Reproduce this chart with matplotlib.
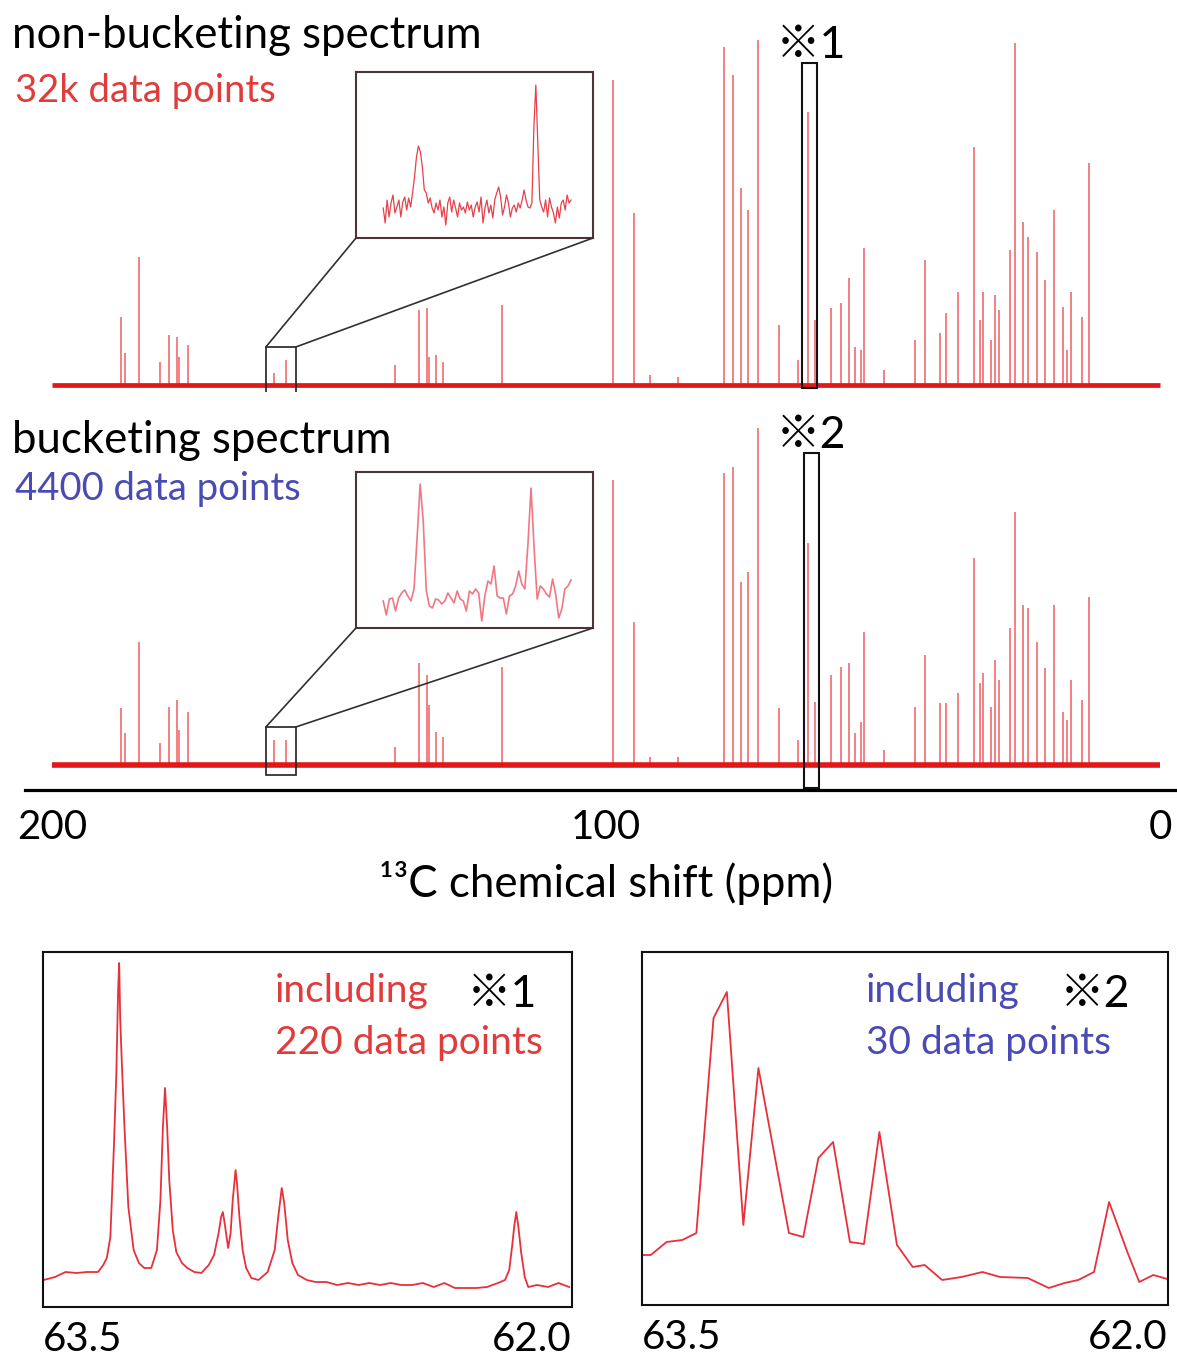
import numpy as np
import matplotlib
matplotlib.use('Agg')
import matplotlib.pyplot as plt
from matplotlib.patches import Rectangle, ConnectionPatch

W, H = 1177, 1371
plt.rcParams['font.family'] = ['Lato', 'Noto Sans CJK JP', 'DejaVu Sans']

# ---------------- data ----------------
peak_ppm = [187.6, 186.8, 184.3, 180.5, 178.8, 177.4, 177.1, 175.5, 159.9, 157.8,
            138.1, 133.8, 132.3, 132.0, 130.7, 129.4, 118.7, 98.8, 95.0, 92.1,
            87.0, 78.7, 77.1, 75.6, 74.3, 72.5, 68.8, 65.4, 63.6, 62.3,
            59.3, 57.6, 56.2, 55.1, 54.0, 53.4, 49.9, 44.3, 42.4, 39.8,
            38.6, 36.4, 33.5, 32.5, 32.0, 30.5, 29.8, 29.1, 27.0, 26.1,
            24.8, 23.8, 22.2, 20.8, 19.1, 17.5, 16.7, 16.0, 14.0, 12.8]
height_full = [68, 32, 128, 23, 50, 48, 28, 40, 12, 25,
               20, 75, 77, 28, 30, 23, 80, 305, 172, 10,
               8, 338, 310, 197, 175, 345, 60, 25, 273, 65,
               77, 82, 107, 38, 35, 137, 15, 45, 125, 52,
               72, 93, 238, 65, 93, 45, 90, 75, 135, 342,
               163, 148, 133, 105, 175, 78, 35, 93, 68, 222]
height_bucket = [57, 32, 123, 22, 58, 65, 35, 53, 25, 25,
                 18, 102, 90, 60, 33, 28, 98, 285, 143, 8,
                 8, 292, 298, 183, 193, 337, 57, 25, 222, 63,
                 90, 98, 102, 32, 43, 133, 15, 58, 110, 62,
                 62, 72, 207, 82, 92, 58, 105, 85, 137, 253,
                 160, 157, 123, 97, 160, 53, 45, 85, 65, 168]

axis_ticks = [200, 100, 0]
axis_ticklabels = ['200', '100', '0']

# zoomed region (small box) in ppm
zoom_ppm = (161.4, 156.0)
inset_trace_ppm = (160.78, 156.5)
inset_full = [30, 15, 38, 21, 35, 43, 25, 31, 38, 21, 36, 41, 28, 40, 31, 45, 61, 81, 92, 86,
              71, 48, 45, 35, 40, 30, 25, 35, 28, 38, 21, 31, 13, 35, 41, 26, 38, 30, 21, 35,
              28, 31, 25, 36, 28, 33, 21, 31, 36, 26, 41, 15, 30, 38, 25, 33, 20, 38, 45, 51,
              41, 23, 31, 43, 35, 21, 30, 33, 26, 35, 30, 38, 48, 38, 31, 30, 35, 111, 153, 95,
              38, 31, 26, 38, 21, 40, 31, 25, 15, 31, 20, 35, 38, 28, 43, 35, 38]
inset_bucket = [27, 13, 29, 30, 17, 30, 35, 38, 32, 27, 39, 90, 144, 107, 37, 22, 20, 29, 28, 24,
                27, 35, 30, 25, 37, 29, 27, 17, 37, 34, 39, 35, 7, 32, 47, 44, 62, 32, 30, 30,
                14, 32, 34, 42, 57, 44, 39, 84, 140, 80, 29, 42, 39, 34, 31, 49, 34, 10, 19, 39,
                42, 48]

# ※ regions (ppm)
region1_ppm = (64.7, 62.0)
region2_ppm = (64.35, 61.5)

# expanded region 63.5 - 62.0 ppm
detail_range = (63.5, 62.0)
detail_full_ppm = [63.498, 63.466, 63.436, 63.405, 63.375, 63.344, 63.329, 63.319, 63.309, 63.299,
                   63.292, 63.287, 63.284, 63.281, 63.276, 63.269, 63.258, 63.243, 63.228, 63.213,
                   63.193, 63.177, 63.167, 63.160, 63.154, 63.148, 63.142, 63.132, 63.122, 63.106,
                   63.091, 63.071, 63.051, 63.030, 63.015, 63.002, 62.995, 62.990, 62.985, 62.975,
                   62.968, 62.962, 62.954, 62.950, 62.943, 62.934, 62.924, 62.909, 62.889, 62.863,
                   62.843, 62.833, 62.823, 62.816, 62.806, 62.793, 62.777, 62.752, 62.727, 62.696,
                   62.666, 62.635, 62.605, 62.575, 62.544, 62.514, 62.484, 62.453, 62.423, 62.392,
                   62.362, 62.332, 62.301, 62.271, 62.241, 62.210, 62.190, 62.178, 62.170, 62.164,
                   62.158, 62.152, 62.144, 62.134, 62.124, 62.099, 62.068, 62.038, 62.008]
detail_full_int = [27, 30, 35, 34, 35, 35, 42, 49, 70, 160,
                   234, 317, 344, 287, 240, 180, 100, 57, 44, 39,
                   39, 57, 107, 180, 219, 180, 127, 77, 55, 44,
                   39, 35, 34, 42, 52, 74, 90, 95, 84, 59,
                   74, 107, 137, 124, 90, 57, 39, 29, 27, 35,
                   57, 90, 119, 104, 67, 44, 32, 27, 25, 25,
                   22, 24, 22, 24, 22, 24, 22, 22, 24, 20,
                   24, 19, 19, 19, 20, 24, 27, 37, 60, 80,
                   95, 80, 54, 30, 20, 22, 20, 24, 20]
detail_bucket_ppm = [63.499, 63.475, 63.430, 63.385, 63.345, 63.296, 63.258, 63.211, 63.168, 63.081,
                     63.040, 62.997, 62.955, 62.907, 62.867, 62.823, 62.773, 62.728, 62.694, 62.644,
                     62.589, 62.529, 62.479, 62.400, 62.340, 62.295, 62.256, 62.211, 62.168, 62.116,
                     62.082, 62.042, 62.002]
detail_bucket_int = [50, 50, 63, 65, 72, 287, 313, 80, 237, 72,
                     68, 147, 163, 63, 61, 173, 60, 38, 40, 25,
                     28, 33, 28, 27, 17, 22, 25, 33, 103, 53,
                     23, 30, 26]

# ---------------- styles ----------------
PEAK = '#EC4A50'
RED_TXT = '#E03C3C'
BLUE_TXT = '#4A4AB4'
BOXC = '#4E3434'

fig = plt.figure(figsize=(W / 100, H / 100), dpi=100)


def px_axes(x0, y0, x1, y1):
    return fig.add_axes([x0 / W, 1 - y1 / H, (x1 - x0) / W, (y1 - y0) / H])


def ftext(x, y, s, **kw):
    return fig.text(x / W, 1 - y / H, s, va='baseline', **kw)


XL = (200 + 27 / 5.54, -17 / 5.54)

# ---------------- main spectra ----------------
ax1 = px_axes(25, 0, 1177, 392)
ax1.set_xlim(*XL)
ax1.set_ylim(-7, 385)
ax1.axis('off')

ax2 = px_axes(25, 392, 1177, 790)
ax2.set_xlim(*XL)
ax2.set_ylim(-25, 373)
for s in ['top', 'left', 'right']:
    ax2.spines[s].set_visible(False)
ax2.spines['bottom'].set_linewidth(2.3)
ax2.set_yticks([])
ax2.set_xticks(axis_ticks)
ax2.set_xticklabels(axis_ticklabels)
ax2.tick_params(axis='x', length=0, pad=14, labelsize=29)

for ax, hts, blw in [(ax1, height_full, 3.4), (ax2, height_bucket, 4.0)]:
    ax.plot([200, 0], [0, 0], color='#E01818', lw=blw, solid_capstyle='butt', zorder=3)
    ax.vlines(peak_ppm, 0, hts, color=PEAK, lw=1.3, alpha=0.75, zorder=2)

# small zoom boxes and ※ boxes
ax1.add_patch(Rectangle((zoom_ppm[1], -8), zoom_ppm[0] - zoom_ppm[1], 46,
                        fill=False, ec='#202020', lw=1.2, zorder=5, clip_on=False))
ax2.add_patch(Rectangle((zoom_ppm[1], -10), zoom_ppm[0] - zoom_ppm[1], 48,
                        fill=False, ec='#202020', lw=1.2, zorder=5, clip_on=False))
ax1.add_patch(Rectangle((region1_ppm[1], -3), region1_ppm[0] - region1_ppm[1], 325,
                        fill=False, ec='#111111', lw=1.5, zorder=5, clip_on=False))
ax2.add_patch(Rectangle((region2_ppm[1], -23), region2_ppm[0] - region2_ppm[1], 335,
                        fill=False, ec='#111111', lw=1.5, zorder=5, clip_on=False))

# insets
for (y0, y1, vals, col, lw, ax, ytop) in [(72, 238, inset_full, '#E8404A', 0.9, ax1, 38),
                                          (472, 628, inset_bucket, '#F07884', 1.2, ax2, 38)]:
    ins = px_axes(356, y0, 593, y1)
    ins.set_xlim(*zoom_ppm)
    ins.set_ylim(0, y1 - y0)
    ins.set_xticks([])
    ins.set_yticks([])
    for sp in ins.spines.values():
        sp.set_color(BOXC)
        sp.set_linewidth(1.5)
    xs = np.linspace(inset_trace_ppm[0], inset_trace_ppm[1], len(vals))
    ins.plot(xs, vals, color=col, lw=lw)
    for xa, xb in [(zoom_ppm[0], 0), (zoom_ppm[1], 1)]:
        con = ConnectionPatch(xyA=(xa, ytop), coordsA=ax.transData,
                              xyB=(xb, 0), coordsB=ins.transAxes,
                              color='#303030', lw=1.2)
        fig.add_artist(con)

# ---------------- texts ----------------
ftext(12, 48, 'non-bucketing spectrum', fontsize=31.5, color='black')
ftext(15, 102, '32k data points', fontsize=27.5, color=RED_TXT)
ftext(776, 58, '※1', fontsize=32, color='black')
ftext(12, 453, 'bucketing spectrum', fontsize=31.5, color='black')
ftext(15, 500, '4400 data points', fontsize=27.5, color=BLUE_TXT)
ftext(776, 448, '※2', fontsize=32, color='black')
ftext(606, 897, '¹³C chemical shift (ppm)', fontsize=31.5, color='black', ha='center')

# ---------------- expanded panels ----------------
for (x0, x1, y1, xs, ys, lab_col, lab_n, mark) in [
        (43, 572, 1307, detail_full_ppm, detail_full_int, RED_TXT, '220 data points', '※1'),
        (642, 1168, 1305, detail_bucket_ppm, detail_bucket_int, BLUE_TXT, '30 data points', '※2')]:
    ax = px_axes(x0, 952, x1, y1)
    ax.set_xlim(*detail_range)
    ax.set_ylim(0, y1 - 952)
    ax.plot(xs, ys, color='#E8303A', lw=1.3)
    ax.set_yticks([])
    ax.set_xticks(list(detail_range))
    ax.set_xticklabels(['63.5', '62.0'])
    ax.tick_params(axis='x', length=0, pad=10, labelsize=29)
    tl = ax.get_xticklabels()
    tl[0].set_ha('left')
    tl[1].set_ha('right')
    for sp in ax.spines.values():
        sp.set_linewidth(1.5)
        sp.set_color('#111111')
    tx = x0 + (232 if x0 < 300 else 224)
    ftext(tx, 1002, 'including', fontsize=28, color=lab_col)
    ftext(tx, 1054, lab_n, fontsize=28, color=lab_col)
    ftext(tx + (192 if x0 < 300 else 194), 1007, mark, fontsize=32, color='black')

fig.savefig('out.png', dpi=100)
